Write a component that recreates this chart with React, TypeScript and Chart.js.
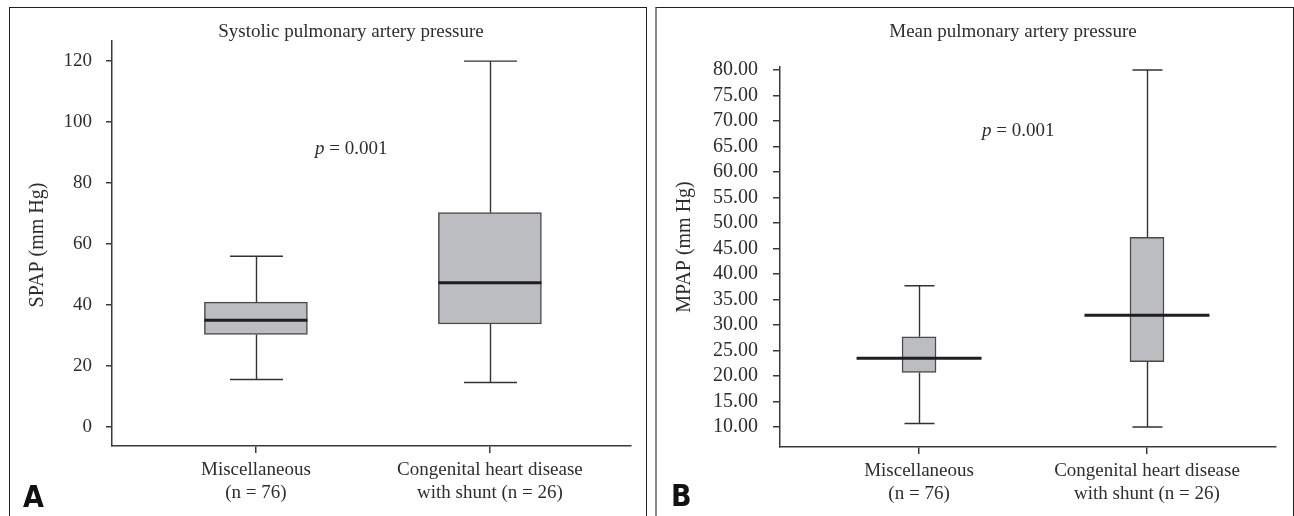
import { useEffect, useRef } from "react";
import { Chart, registerables } from "chart.js";

Chart.register(...registerables);

// ---------------- data ----------------
const categories: string[][] = [
  ["Miscellaneous", "(n = 76)"],
  ["Congenital heart disease", "with shunt (n = 26)"],
];
const categoryPositions = [0, 1];

const spapMin = [15.6, 14.6];
const spapQ1 = [30.4, 33.8];
const spapMedian = [35.0, 47.3];
const spapQ3 = [41.0, 70.3];
const spapMax = [56.0, 120.0];
const spapTicks = [0, 20, 40, 60, 80, 100, 120];

const mpapMin = [10.7, 10.0];
const mpapQ1 = [20.7, 22.8];
const mpapMedian = [23.5, 31.9];
const mpapQ3 = [27.7, 47.2];
const mpapMax = [37.7, 80.0];
const mpapTicks = [10, 15, 20, 25, 30, 35, 40, 45, 50, 55, 60, 65, 70, 75, 80];

const titleA = "Systolic pulmonary artery pressure";
const titleB = "Mean pulmonary artery pressure";
const yTitleA = "SPAP (mm Hg)";
const yTitleB = "MPAP (mm Hg)";
const pLabel = "p";
const pValueText = " = 0.001";

// ---------------- style ----------------
const SERIF = '"Liberation Serif", "Times New Roman", serif';
const TEXT = "#2e2e2e";
const AXIS = "#3a3a3a";

type Stats = { min: number[]; q1: number[]; med: number[]; q3: number[]; max: number[] };

type PanelCfg = {
  stats: Stats;
  ticks: number[];
  decimals: number;
  yMin: number;
  yMax: number;
  xMin: number;
  xMax: number;
  title: string;
  yTitle: string;
  letter: string;
  layout: {
    padTop: number;
    padRight: number;
    yWidth: number;
    xHeight: number;
    yTickLen: number;
    yTickPad: number;
    yTickFont: number;
    boxWidth: number;
    capWidth: number;
    medianWidth: number;
    titleX: number;
    titleY: number;
    pX: number;
    pY: number;
    yTitleX: number;
    yTitleY: number;
    letterX: number;
    letterY: number;
  };
};

function makeChart(canvas: HTMLCanvasElement, cfg: PanelCfg) {
  const { stats, layout: L } = cfg;
  const plugin = {
    id: "boxWhiskers",
    beforeDatasetsDraw(chart: any) {
      const { ctx } = chart;
      const x = chart.scales.x;
      const y = chart.scales.y;
      ctx.save();
      ctx.strokeStyle = "#333";
      ctx.lineWidth = 1.4;
      categoryPositions.forEach((pos, i) => {
        const px = Math.round(x.getPixelForValue(pos)) + 0.5;
        const pMax = y.getPixelForValue(stats.max[i]);
        const pQ3 = y.getPixelForValue(stats.q3[i]);
        const pQ1 = y.getPixelForValue(stats.q1[i]);
        const pMin = y.getPixelForValue(stats.min[i]);
        ctx.beginPath();
        ctx.moveTo(px, pMax);
        ctx.lineTo(px, pQ3);
        ctx.moveTo(px, pQ1);
        ctx.lineTo(px, pMin);
        ctx.moveTo(px - L.capWidth / 2, pMax);
        ctx.lineTo(px + L.capWidth / 2, pMax);
        ctx.moveTo(px - L.capWidth / 2, pMin);
        ctx.lineTo(px + L.capWidth / 2, pMin);
        ctx.stroke();
      });
      ctx.restore();
    },
    afterDatasetsDraw(chart: any) {
      const { ctx } = chart;
      const x = chart.scales.x;
      const y = chart.scales.y;
      ctx.save();
      ctx.strokeStyle = "#1e1e1e";
      ctx.lineWidth = 3;
      categoryPositions.forEach((pos, i) => {
        const px = x.getPixelForValue(pos);
        const pm = y.getPixelForValue(stats.med[i]);
        ctx.beginPath();
        ctx.moveTo(px - L.medianWidth / 2, pm);
        ctx.lineTo(px + L.medianWidth / 2, pm);
        ctx.stroke();
      });
      ctx.restore();
    },
    afterDraw(chart: any) {
      const { ctx } = chart;
      ctx.save();
      ctx.fillStyle = TEXT;
      // title
      ctx.font = `19px ${SERIF}`;
      ctx.textAlign = "center";
      ctx.textBaseline = "middle";
      ctx.fillText(cfg.title, L.titleX, L.titleY);
      // p value
      ctx.textAlign = "left";
      ctx.font = `italic 19px ${SERIF}`;
      ctx.fillText(pLabel, L.pX, L.pY);
      const pw = ctx.measureText(pLabel).width;
      ctx.font = `19px ${SERIF}`;
      ctx.fillText(pValueText, L.pX + pw, L.pY);
      // y title
      ctx.save();
      ctx.translate(L.yTitleX, L.yTitleY);
      ctx.rotate(-Math.PI / 2);
      ctx.textAlign = "center";
      ctx.textBaseline = "middle";
      ctx.font = `20px ${SERIF}`;
      ctx.fillText(cfg.yTitle, 0, 0);
      ctx.restore();
      // panel letter
      ctx.fillStyle = "#111";
      ctx.font = `bold 30px "Liberation Sans Narrow", "DejaVu Sans Condensed", "Liberation Sans", sans-serif`;
      ctx.textAlign = "left";
      ctx.textBaseline = "alphabetic";
      ctx.fillText(cfg.letter, L.letterX, L.letterY);
      ctx.restore();
    },
  };

  return new Chart(canvas, {
    type: "bar",
    data: {
      datasets: [
        {
          data: categoryPositions.map((pos, i) => ({ x: pos, y: [stats.q1[i], stats.q3[i]] })) as any,
          backgroundColor: "#bcbdc0",
          borderColor: "#4a4a4a",
          borderWidth: 1.5,
          borderSkipped: false,
          barThickness: L.boxWidth,
        },
      ],
    },
    options: {
      animation: false,
      responsive: false,
      devicePixelRatio: 1,
      events: [],
      layout: { padding: { top: L.padTop, right: L.padRight, left: 0, bottom: 0 } },
      plugins: {
        legend: { display: false },
        tooltip: { enabled: false },
        title: { display: false },
      },
      scales: {
        x: {
          type: "linear",
          min: cfg.xMin,
          max: cfg.xMax,
          offset: false,
          afterBuildTicks: (scale: any) => {
            scale.ticks = categoryPositions.map((v) => ({ value: v }));
          },
          afterFit: (scale: any) => {
            scale.height = L.xHeight;
          },
          grid: {
            display: true,
            drawOnChartArea: false,
            drawTicks: true,
            tickLength: 7,
            offset: false,
            color: AXIS,
            lineWidth: 1.5,
          },
          border: { display: true, color: AXIS, width: 1.5 },
          ticks: {
            autoSkip: false,
            maxRotation: 0,
            padding: 6,
            color: TEXT,
            font: { family: SERIF, size: 19, lineHeight: 1.2 },
            callback: (_v: any, idx: number) => categories[idx],
          },
        },
        y: {
          type: "linear",
          min: cfg.yMin,
          max: cfg.yMax,
          beginAtZero: false,
          afterBuildTicks: (scale: any) => {
            scale.ticks = cfg.ticks.map((v) => ({ value: v }));
          },
          afterFit: (scale: any) => {
            scale.width = L.yWidth;
          },
          grid: {
            display: true,
            drawOnChartArea: false,
            drawTicks: true,
            tickLength: L.yTickLen,
            color: AXIS,
            lineWidth: 1.5,
          },
          border: { display: true, color: AXIS, width: 1.5 },
          ticks: {
            padding: L.yTickPad,
            color: TEXT,
            font: { family: SERIF, size: L.yTickFont },
            callback: (v: any) => Number(v).toFixed(cfg.decimals),
          },
        },
      },
    } as any,
    plugins: [plugin as any],
  });
}

const panelA: PanelCfg = {
  stats: { min: spapMin, q1: spapQ1, med: spapMedian, q3: spapQ3, max: spapMax },
  ticks: spapTicks,
  decimals: 0,
  yMin: -6.2,
  yMax: 126.6,
  xMin: -0.615,
  xMax: 1.603,
  title: titleA,
  yTitle: yTitleA,
  letter: "A",
  layout: {
    padTop: 33,
    padRight: 15,
    yWidth: 102,
    xHeight: 70,
    yTickLen: 6,
    yTickPad: 14,
    yTickFont: 19,
    boxWidth: 103,
    capWidth: 53,
    medianWidth: 103,
    titleX: 341,
    titleY: 24,
    pX: 305,
    pY: 141,
    yTitleX: 28,
    yTitleY: 237,
    letterX: 13,
    letterY: 499,
  },
};

const panelB: PanelCfg = {
  stats: { min: mpapMin, q1: mpapQ1, med: mpapMedian, q3: mpapQ3, max: mpapMax },
  ticks: mpapTicks,
  decimals: 2,
  yMin: 6.08,
  yMax: 80.6,
  xMin: -0.61,
  xMax: 1.566,
  title: titleB,
  yTitle: yTitleB,
  letter: "B",
  layout: {
    padTop: 59,
    padRight: 16,
    yWidth: 124,
    xHeight: 69,
    yTickLen: 7,
    yTickPad: 15,
    yTickFont: 20,
    boxWidth: 34,
    capWidth: 30,
    medianWidth: 125,
    titleX: 357,
    titleY: 24,
    pX: 326,
    pY: 123,
    yTitleX: 29,
    yTitleY: 239,
    letterX: 15,
    letterY: 498,
  },
};

function Panel({ cfg, left }: { cfg: PanelCfg; left: number }) {
  const ref = useRef<HTMLCanvasElement | null>(null);
  useEffect(() => {
    if (!ref.current) return;
    const chart = makeChart(ref.current, cfg);
    return () => chart.destroy();
  }, [cfg]);
  return (
    <canvas
      ref={ref}
      width={636}
      height={508}
      style={{ position: "absolute", left, top: 8, width: 636, height: 508 }}
    />
  );
}

export default function App() {
  return (
    <div
      style={{
        position: "fixed",
        left: 0,
        top: 0,
        width: 1294,
        height: 516,
        overflow: "hidden",
        background: "#fff",
      }}
    >
      <div
        style={{
          position: "absolute",
          left: 9,
          top: 7,
          width: 638,
          height: 600,
          boxSizing: "border-box",
          borderTop: "1px solid #222",
          borderLeft: "1px solid #222",
          borderRight: "1px solid #222",
        }}
      />
      <div
        style={{
          position: "absolute",
          left: 655,
          top: 7,
          width: 639,
          height: 600,
          boxSizing: "border-box",
          borderTop: "1px solid #222",
          borderLeft: "2px solid #8a8a8a",
          borderRight: "1px solid #222",
        }}
      />
      <Panel cfg={panelA} left={10} />
      <Panel cfg={panelB} left={656} />
    </div>
  );
}
